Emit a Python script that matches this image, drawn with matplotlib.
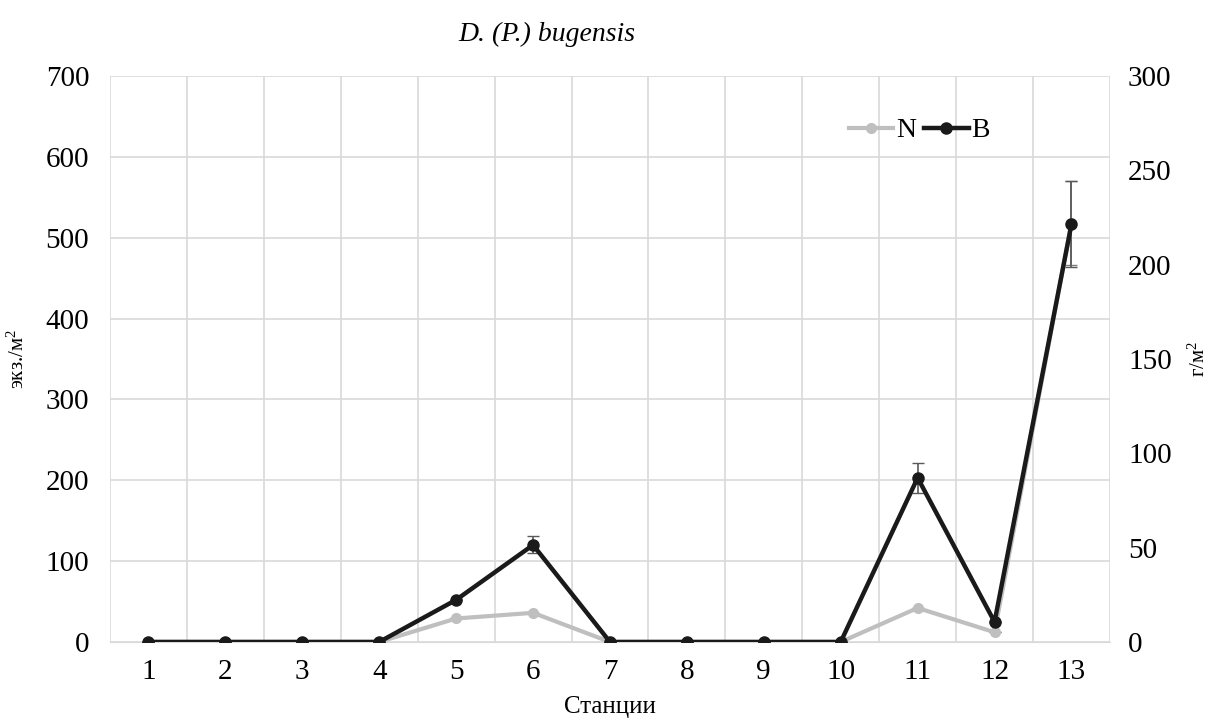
import matplotlib
matplotlib.use("Agg")
from matplotlib import pyplot as plt
from matplotlib.lines import Line2D
import numpy as np

plt.rcParams['font.family'] = ['Liberation Serif', 'DejaVu Serif']
plt.rcParams['mathtext.fontset'] = 'custom'
plt.rcParams['mathtext.rm'] = 'Liberation Serif'
plt.rcParams['mathtext.it'] = 'Liberation Serif:italic'

stations = [1, 2, 3, 4, 5, 6, 7, 8, 9, 10, 11, 12, 13]
n_values = [0, 0, 0, 0, 29, 36, 0, 0, 0, 0, 42, 12, 518]
n_err = [0, 0, 0, 0, 0, 0, 0, 0, 0, 0, 0, 0, 52]
b_values = [0, 0, 0, 0, 22.3, 51.4, 0, 0, 0, 0, 87, 10.6, 221.5]
b_err = [0, 0, 0, 0, 0, 4.5, 0, 0, 0, 0, 8, 0, 23]

fig = plt.figure(figsize=(12.1, 7.27), dpi=100)
ax = fig.add_axes([0.0909, 0.117, 0.8264, 0.7785])
ax2 = ax.twinx()

x = np.array(stations)
grid_c = '#d9d9d9'
n_col = '#bfbfbf'
b_col = '#1a1a1a'

ax.errorbar(x, n_values, yerr=n_err, color=n_col, lw=3, marker='o', ms=7,
            ecolor='#7f7f7f', elinewidth=1.2, capsize=4, zorder=3)
ax2.errorbar(x, b_values, yerr=b_err, color=b_col, lw=3.2, marker='o', ms=8,
             ecolor='#595959', elinewidth=1.2, capsize=4, zorder=4)

ax.set_xlim(0.5, 13.5)
ax.set_ylim(0, 700)
ax2.set_ylim(0, 300)
ax.set_yticks(np.arange(0, 701, 100))
ax2.set_yticks(np.arange(0, 301, 50))
ax.set_xticks(x)
ax.set_xticklabels([str(s) for s in stations])
ax.set_xticks(np.arange(0.5, 13.6, 1), minor=True)

ax.grid(True, axis='y', color=grid_c, lw=1.2)
ax.grid(True, axis='x', which='minor', color=grid_c, lw=1.2)
ax.grid(False, axis='x', which='major')
ax.set_axisbelow(True)

for a in (ax, ax2):
    for s in a.spines.values():
        s.set_visible(False)
    a.tick_params(axis='both', which='both', length=0, labelsize=21)
ax.tick_params(axis='x', pad=12)
ax.tick_params(axis='y', pad=15)
ax2.tick_params(axis='y', pad=13)
ax.spines['bottom'].set_visible(True)
ax.spines['bottom'].set_color(grid_c)

ax.set_xlabel('Станции', fontsize=18, labelpad=8)
ax.set_ylabel('экз./м$^2$', fontsize=15, labelpad=12)
ax2.set_ylabel('г/м$^2$', fontsize=15, labelpad=12)

fig.text(0.452, 0.953, 'D. (P.) bugensis', fontsize=20, style='italic',
         ha='center', va='center')

handles = [Line2D([], [], color=n_col, lw=3, marker='o', ms=7),
           Line2D([], [], color=b_col, lw=3.2, marker='o', ms=8)]
ax2.legend(handles, ['N', 'B'], loc='upper right', bbox_to_anchor=(0.905, 0.97),
           ncol=2, frameon=False, fontsize=20, handlelength=1.6,
           handletextpad=0.1, columnspacing=0.3)

fig.savefig('out.png', dpi=100)
